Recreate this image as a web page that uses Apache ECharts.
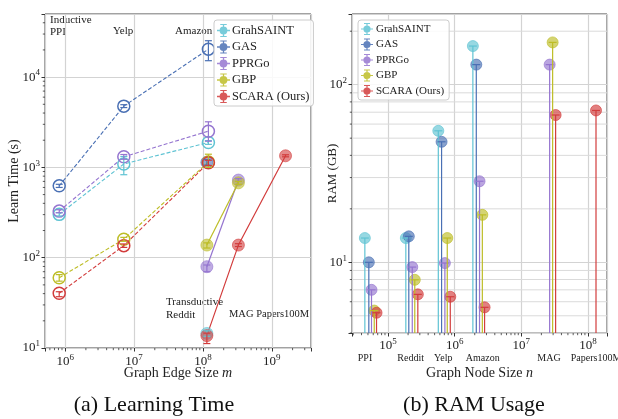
<!DOCTYPE html>
<html>
<head>
<meta charset="utf-8">
<script src="https://cdn.jsdelivr.net/npm/echarts@6/dist/echarts.min.js"></script>
<style>
  html, body { margin: 0; padding: 0; background: #fff; }
  #chart { width: 618px; height: 419px; }
</style>
</head>
<body>
<div id="chart"></div>
<script>
// ---- Learning time vs. graph edge size (left panel) ----
const methodNames = ['GrahSAINT', 'GAS', 'PPRGo', 'GBP', 'SCARA (Ours)'];
const methodColors = ['#5fc3d3', '#4a70b4', '#9575d0', '#bdbd26', '#d23c3c'];

// inductive datasets: PPI, Yelp, Amazon
const inductiveEdges = [8.2e5, 7.1e6, 1.2e8];
const indTimeSaint = [302, 1090, 1890];
const indTimeGas = [625, 4770, 20400];
const indTimePprgo = [328, 1310, 2520];
const indTimeGbp = [60, 160, 1150];
const indTimeScara = [40.4, 136, 1125];
const indErrSaint = [[290, 315], [830, 1320], [1800, 1980]];
const indErrGas = [[600, 650], [4600, 4950], [15200, 25300]];
const indErrPprgo = [[315, 340], [1230, 1390], [1950, 3200]];
const indErrGbp = [[55, 65], [152, 168], [1000, 1400]];
const indErrScara = [[37, 42], [130, 142], [1050, 1200]];

// transductive datasets: Reddit, MAG, Papers100M
const transEdges = [1.14e8, 3.27e8, 1.58e9];
const trTimeSaint = [14.5, null, null];
const trTimeGas = [1140, null, null];
const trTimePprgo = [79.5, 724, null];
const trTimeGbp = [138, 675, null];
const trTimeScara = [13.7, 138, 1345];
const trErrSaint = [[13.5, 15.5], null, null];
const trErrGas = [[1060, 1220], null, null];
const trErrPprgo = [[70, 83], [700, 750], null];
const trErrGbp = [[128, 146], [650, 700], null];
const trErrScara = [[11.2, 14.6], [133, 143], [1310, 1380]];

// ---- RAM usage vs. graph node size (right panel) ----
const ramNodesSaint = [44900, 185000, 568000, 1.875e6];
const ramSaint = [13.7, 13.7, 55, 165];
const ramNodesGas = [51500, 205000, 636000, 2.11e6];
const ramGas = [10.0, 14.0, 47.7, 129.7];
const ramNodesPprgo = [56500, 231000, 713000, 2.36e6, 2.66e7];
const ramPprgo = [7.0, 9.4, 9.9, 28.6, 129.7];
const ramNodesGbp = [62100, 252000, 774000, 2.6e6, 2.95e7];
const ramGbp = [5.35, 7.97, 13.7, 18.5, 173];
const ramNodesScara = [67200, 280000, 859000, 2.81e6, 3.27e7, 1.32e8];
const ramScara = [5.2, 6.6, 6.4, 5.58, 67.5, 71.6];

// axis ranges
const edgeMin = 5.1e5, edgeMax = 3.7e9;
const timeMin = 10, timeMax = 50000;
const nodeMin = 2.88e4, nodeMax = 1.93e8;
const ramMin = 4.0, ramMax = 250;

const FONT = '"Liberation Serif", "DejaVu Serif", serif';

function pairs(xs, ys) {
  const out = [];
  xs.forEach((x, i) => { if (ys[i] != null) out.push([x, ys[i]]); });
  return out;
}
function errRows(xs, errs) {
  const out = [];
  xs.forEach((x, i) => { if (errs[i]) out.push([x, errs[i][0], errs[i][1]]); });
  return out;
}
// log-axis minor positions (2..9 times each decade) inside [lo, hi]
function minorValues(lo, hi) {
  const out = [];
  for (let e = Math.floor(Math.log10(lo)); e <= Math.ceil(Math.log10(hi)); e++) {
    for (let m = 2; m <= 9; m++) {
      const v = m * Math.pow(10, e);
      if (v > lo && v < hi) out.push(v);
    }
  }
  return out;
}

function powLabel(v) {
  const e = Math.log10(v);
  const r = Math.round(e);
  if (Math.abs(e - r) > 1e-6) return '';
  return '{b|10}{s|' + r + '}';
}
const tickRich = {
  b: { fontFamily: FONT, fontSize: 13, color: '#222' },
  s: { fontFamily: FONT, fontSize: 9, color: '#222', padding: [0, 0, 8, 0] }
};

// error-bar glyph for legend entries
const errIcon = 'path://M0 9H20V11H0Z M9 0H11V20H9Z M5 0H15V1.6H5Z M5 18.4H15V20H5Z M10 4A6 6 0 1 1 9.99 4Z';

function errorBarSeries(rows, color, xi, yi, z) {
  return {
    type: 'custom', xAxisIndex: xi, yAxisIndex: yi, z: z, silent: true,
    encode: { x: 0, y: [1, 2] },
    data: rows,
    renderItem: function (params, api) {
      const x = api.value(0);
      const lo = api.coord([x, api.value(1)]);
      const hi = api.coord([x, api.value(2)]);
      const w = 3.5;
      const st = { stroke: color, lineWidth: 1.2 };
      return { type: 'group', children: [
        { type: 'line', shape: { x1: lo[0], y1: lo[1], x2: hi[0], y2: hi[1] }, style: st },
        { type: 'line', shape: { x1: lo[0] - w, y1: lo[1], x2: lo[0] + w, y2: lo[1] }, style: st },
        { type: 'line', shape: { x1: hi[0] - w, y1: hi[1], x2: hi[0] + w, y2: hi[1] }, style: st }
      ] };
    }
  };
}

function stemSeries(xs, ys, color, z) {
  return {
    type: 'custom', xAxisIndex: 1, yAxisIndex: 1, z: z, silent: true,
    encode: { x: 0, y: 1 },
    data: pairs(xs, ys),
    renderItem: function (params, api) {
      const x = api.value(0);
      const top = api.coord([x, api.value(1)]);
      const base = api.coord([x, ramMin]);
      const st = { stroke: color, lineWidth: 1.2 };
      return { type: 'group', children: [
        { type: 'line', shape: { x1: top[0], y1: top[1], x2: base[0], y2: base[1] }, style: st },
        { type: 'line', shape: { x1: top[0] - 4, y1: top[1], x2: top[0] + 4, y2: top[1] }, style: st }
      ] };
    }
  };
}

// short outward minor ticks along the bottom (dim 'x') or left (dim 'y') edge
function minorTickSeries(dim, values, xi, yi, xMin, yMin) {
  return {
    type: 'custom', xAxisIndex: xi, yAxisIndex: yi, z: 1, silent: true,
    encode: dim === 'x' ? { x: 0 } : { y: 0 },
    data: values.map(v => [v]),
    renderItem: function (params, api) {
      const v = api.value(0);
      const st = { stroke: '#333', lineWidth: 0.8 };
      if (dim === 'x') {
        const p = api.coord([v, yMin]);
        return { type: 'line', shape: { x1: p[0], y1: p[1], x2: p[0], y2: p[1] + 2.2 }, style: st };
      }
      const p = api.coord([xMin, v]);
      return { type: 'line', shape: { x1: p[0] - 2.2, y1: p[1], x2: p[0], y2: p[1] }, style: st };
    }
  };
}

const indTimes = [indTimeSaint, indTimeGas, indTimePprgo, indTimeGbp, indTimeScara];
const indErrs = [indErrSaint, indErrGas, indErrPprgo, indErrGbp, indErrScara];
const trTimes = [trTimeSaint, trTimeGas, trTimePprgo, trTimeGbp, trTimeScara];
const trErrs = [trErrSaint, trErrGas, trErrPprgo, trErrGbp, trErrScara];
const ramNodes = [ramNodesSaint, ramNodesGas, ramNodesPprgo, ramNodesGbp, ramNodesScara];
const ramVals = [ramSaint, ramGas, ramPprgo, ramGbp, ramScara];

const series = [];

// minor horizontal grid lines of the RAM panel
series.push({
  type: 'custom', xAxisIndex: 1, yAxisIndex: 1, z: 0, silent: true,
  encode: { y: 0 },
  data: minorValues(ramMin - 0.5, ramMax).map(v => [v]),
  renderItem: function (params, api) {
    const v = api.value(0);
    const a = api.coord([nodeMin, v]);
    const b = api.coord([nodeMax, v]);
    return { type: 'line', shape: { x1: a[0], y1: a[1], x2: b[0], y2: b[1] },
      style: { stroke: '#dadada', lineWidth: 1 } };
  }
});

// minor ticks of all four axes
series.push(minorTickSeries('x', minorValues(edgeMin, edgeMax), 0, 0, edgeMin, timeMin));
series.push(minorTickSeries('y', minorValues(timeMin, timeMax), 0, 0, edgeMin, timeMin));
series.push(minorTickSeries('x', minorValues(nodeMin, nodeMax), 1, 1, nodeMin, ramMin));
series.push(minorTickSeries('y', minorValues(ramMin - 0.5, ramMax), 1, 1, nodeMin, ramMin));

methodNames.forEach((name, k) => {
  const c = methodColors[k];
  // transductive: solid lines, filled markers
  series.push({
    name: name, type: 'line', xAxisIndex: 0, yAxisIndex: 0, z: 3,
    data: pairs(transEdges, trTimes[k]),
    symbol: 'circle', symbolSize: 12,
    lineStyle: { color: c, width: 1.2, type: 'solid' },
    itemStyle: { color: c, opacity: 0.6, borderColor: c, borderWidth: 1 },
    emphasis: { disabled: true }
  });
  series.push(errorBarSeries(errRows(transEdges, trErrs[k]), c, 0, 0, 5));
  // inductive: dashed lines, hollow markers
  series.push({
    name: name, type: 'line', xAxisIndex: 0, yAxisIndex: 0, z: 4,
    data: pairs(inductiveEdges, indTimes[k]),
    symbol: 'circle', symbolSize: 12,
    lineStyle: { color: c, width: 1.1, type: [4, 2] },
    itemStyle: { color: 'rgba(255,255,255,0)', borderColor: c, borderWidth: 1.5 },
    emphasis: { disabled: true }
  });
  series.push(errorBarSeries(errRows(inductiveEdges, indErrs[k]), c, 0, 0, 5));
  // RAM: stems with caps plus translucent markers
  series.push({
    name: name, type: 'scatter', xAxisIndex: 1, yAxisIndex: 1, z: 3,
    data: pairs(ramNodes[k], ramVals[k]),
    symbol: 'circle', symbolSize: 11,
    itemStyle: { color: c, opacity: 0.65, borderColor: c, borderWidth: 1 },
    emphasis: { disabled: true }
  });
  series.push(stemSeries(ramNodes[k], ramVals[k], c, 4));
});

function legendData() {
  return methodNames.map((n, k) => ({
    name: n, icon: errIcon,
    itemStyle: { color: methodColors[k], opacity: 0.85, borderWidth: 0 }
  }));
}

const axisCommon = {
  type: 'log', logBase: 10,
  nameMoveOverlap: false,
  axisLine: { show: false },
  axisTick: { show: true, inside: false, length: 3.5, lineStyle: { color: '#333' } },
  splitLine: { show: true, lineStyle: { color: '#d3d3d3', width: 1.2 } },
  axisLabel: { formatter: powLabel, rich: tickRich, showMinLabel: true, showMaxLabel: true }
};

const nameStyle = (size) => ({
  fontFamily: FONT, fontSize: size, color: '#222',
  rich: { i: { fontFamily: FONT, fontSize: size, fontStyle: 'italic', color: '#222' } }
});

const option = {
  backgroundColor: '#fff',
  animation: false,
  textStyle: { fontFamily: FONT },
  grid: [
    { left: 45, top: 14, width: 266, height: 334, show: true, borderColor: '#444', borderWidth: 1, backgroundColor: 'transparent' },
    { left: 352, top: 14, width: 255, height: 319, show: true, borderColor: '#444', borderWidth: 1, backgroundColor: 'transparent' }
  ],
  xAxis: [
    Object.assign({}, axisCommon, {
      gridIndex: 0, min: edgeMin, max: edgeMax,
      axisLabel: Object.assign({}, axisCommon.axisLabel, { margin: 5 }),
      name: 'Graph Edge Size {i|m}', nameLocation: 'middle', nameGap: 18,
      nameTextStyle: nameStyle(14)
    }),
    Object.assign({}, axisCommon, {
      gridIndex: 1, min: nodeMin, max: nodeMax,
      axisLabel: Object.assign({}, axisCommon.axisLabel, { margin: 4 }),
      name: 'Graph Node Size {i|n}', nameLocation: 'middle', nameGap: 33,
      nameTextStyle: nameStyle(14)
    })
  ],
  yAxis: [
    Object.assign({}, axisCommon, {
      gridIndex: 0, min: timeMin, max: timeMax,
      axisLabel: Object.assign({}, axisCommon.axisLabel, { margin: 5 }),
      name: 'Learn Time (s)', nameLocation: 'middle', nameGap: 24,
      nameTextStyle: nameStyle(14)
    }),
    Object.assign({}, axisCommon, {
      gridIndex: 1, min: ramMin, max: ramMax,
      axisLabel: Object.assign({}, axisCommon.axisLabel, { margin: 5 }),
      name: 'RAM (GB)', nameLocation: 'middle', nameGap: 13,
      nameTextStyle: nameStyle(13)
    })
  ],
  legend: [
    {
      left: 214, top: 20, z: 20, orient: 'vertical', itemWidth: 13, itemHeight: 13, itemGap: 3.5,
      padding: [4, 4, 3, 3], borderColor: '#ccc', borderWidth: 1, borderRadius: 3,
      backgroundColor: 'rgba(255,255,255,0.85)', selectedMode: false,
      textStyle: { fontFamily: FONT, fontSize: 12.5, color: '#222', padding: [0, 0, 0, -3] },
      data: legendData()
    },
    {
      left: 358, top: 20, z: 20, orient: 'vertical', itemWidth: 12, itemHeight: 12, itemGap: 3.5,
      padding: [3, 5, 3, 3], borderColor: '#ccc', borderWidth: 1, borderRadius: 3,
      backgroundColor: 'rgba(255,255,255,0.85)', selectedMode: false,
      textStyle: { fontFamily: FONT, fontSize: 11, color: '#222', padding: [0, 0, 0, -2] },
      data: legendData()
    }
  ],
  graphic: [
    { type: 'text', left: 50, top: 14, style: { text: 'Inductive\nPPI', font: '11px ' + FONT, fill: '#222', lineHeight: 12 } },
    { type: 'text', left: 113, top: 26, style: { text: 'Yelp', font: '11px ' + FONT, fill: '#222' } },
    { type: 'text', left: 175, top: 26, style: { text: 'Amazon', font: '11px ' + FONT, fill: '#222' } },
    { type: 'text', left: 166, top: 296, style: { text: 'Transductive\nReddit', font: '11px ' + FONT, fill: '#222', lineHeight: 12.5 } },
    { type: 'text', left: 229, top: 309, style: { text: 'MAG Papers100M', font: '10.5px ' + FONT, fill: '#222' } },
    { type: 'text', x: 365, y: 358, style: { text: 'PPI', font: '10px ' + FONT, fill: '#222', align: 'center', verticalAlign: 'middle' } },
    { type: 'text', x: 410.7, y: 358, style: { text: 'Reddit', font: '10px ' + FONT, fill: '#222', align: 'center', verticalAlign: 'middle' } },
    { type: 'text', x: 443.3, y: 358, style: { text: 'Yelp', font: '10px ' + FONT, fill: '#222', align: 'center', verticalAlign: 'middle' } },
    { type: 'text', x: 482.7, y: 358, style: { text: 'Amazon', font: '10px ' + FONT, fill: '#222', align: 'center', verticalAlign: 'middle' } },
    { type: 'text', x: 549, y: 358, style: { text: 'MAG', font: '10px ' + FONT, fill: '#222', align: 'center', verticalAlign: 'middle' } },
    { type: 'text', x: 596, y: 358, style: { text: 'Papers100M', font: '10px ' + FONT, fill: '#222', align: 'center', verticalAlign: 'middle' } },
    { type: 'text', x: 154, y: 405, style: { text: '(a) Learning Time', font: '22px ' + FONT, fill: '#111', align: 'center', verticalAlign: 'middle' } },
    { type: 'text', x: 474, y: 405, style: { text: '(b) RAM Usage', font: '22px ' + FONT, fill: '#111', align: 'center', verticalAlign: 'middle' } }
  ],
  series: series
};

const chart = echarts.init(document.getElementById('chart'), null, { renderer: 'canvas' });
chart.setOption(option);
</script>
</body>
</html>
